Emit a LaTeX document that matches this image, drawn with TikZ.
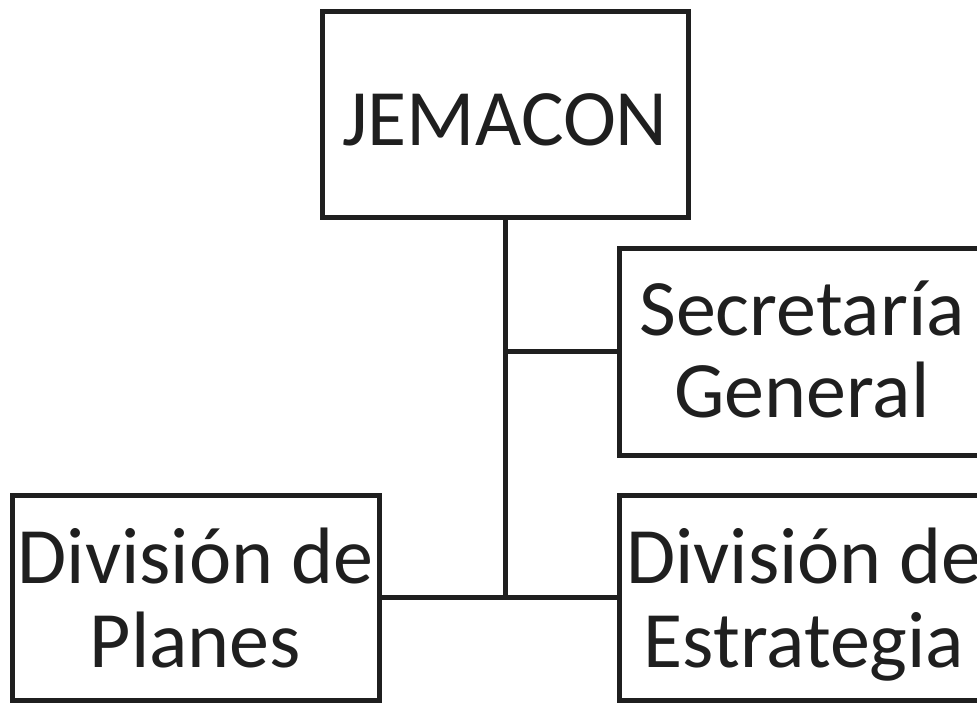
\documentclass[tikz,border=0pt]{standalone}
\usepackage{fontspec}
\setmainfont{Carlito}
\begin{document}
\begin{tikzpicture}[x=1pt,y=-1pt,
  box/.style={draw=black!88, line width=5pt, rectangle, inner sep=0pt, minimum width=366pt, minimum height=206pt},
  lbl/.style={anchor=base, inner sep=0pt, font=\fontsize{80}{82}\selectfont, text=black!88},
  conn/.style={draw=black!88, line width=5pt}]
\useasboundingbox (0,0) rectangle (977,702);
\begin{scope}
\clip (0,0) rectangle (977,702);
\node[box] (J) at (505,114) {};
\node[box, minimum height=207pt] (S) at (802,351.5) {};
\node[box, minimum height=205pt, minimum width=367pt] (P) at (195.5,597.5) {};
\node[box, minimum height=205pt, minimum width=367pt] (E) at (802.5,597.5) {};
\end{scope}
\node[lbl] (tJ) at (505,145) {JEMACON};
\node[lbl] (tS1) at (802,335) {Secretaría};
\node[lbl] (tS2) at (802,417) {General};
\node[lbl] (tP1) at (195.5,583) {División de};
\node[lbl] (tP2) at (195.5,667) {Planes};
\node[lbl] (tE1) at (804,583) {División de};
\node[lbl] (tE2) at (804,667) {Estrategia};
\coordinate (m) at (505,598);
\coordinate (s) at (505,351.5);
\draw[conn] (J.south) -- (m);
\draw[conn] (s) -- (S.west);
\draw[conn] (P.east) -- (E.west);
\end{tikzpicture}
\end{document}
